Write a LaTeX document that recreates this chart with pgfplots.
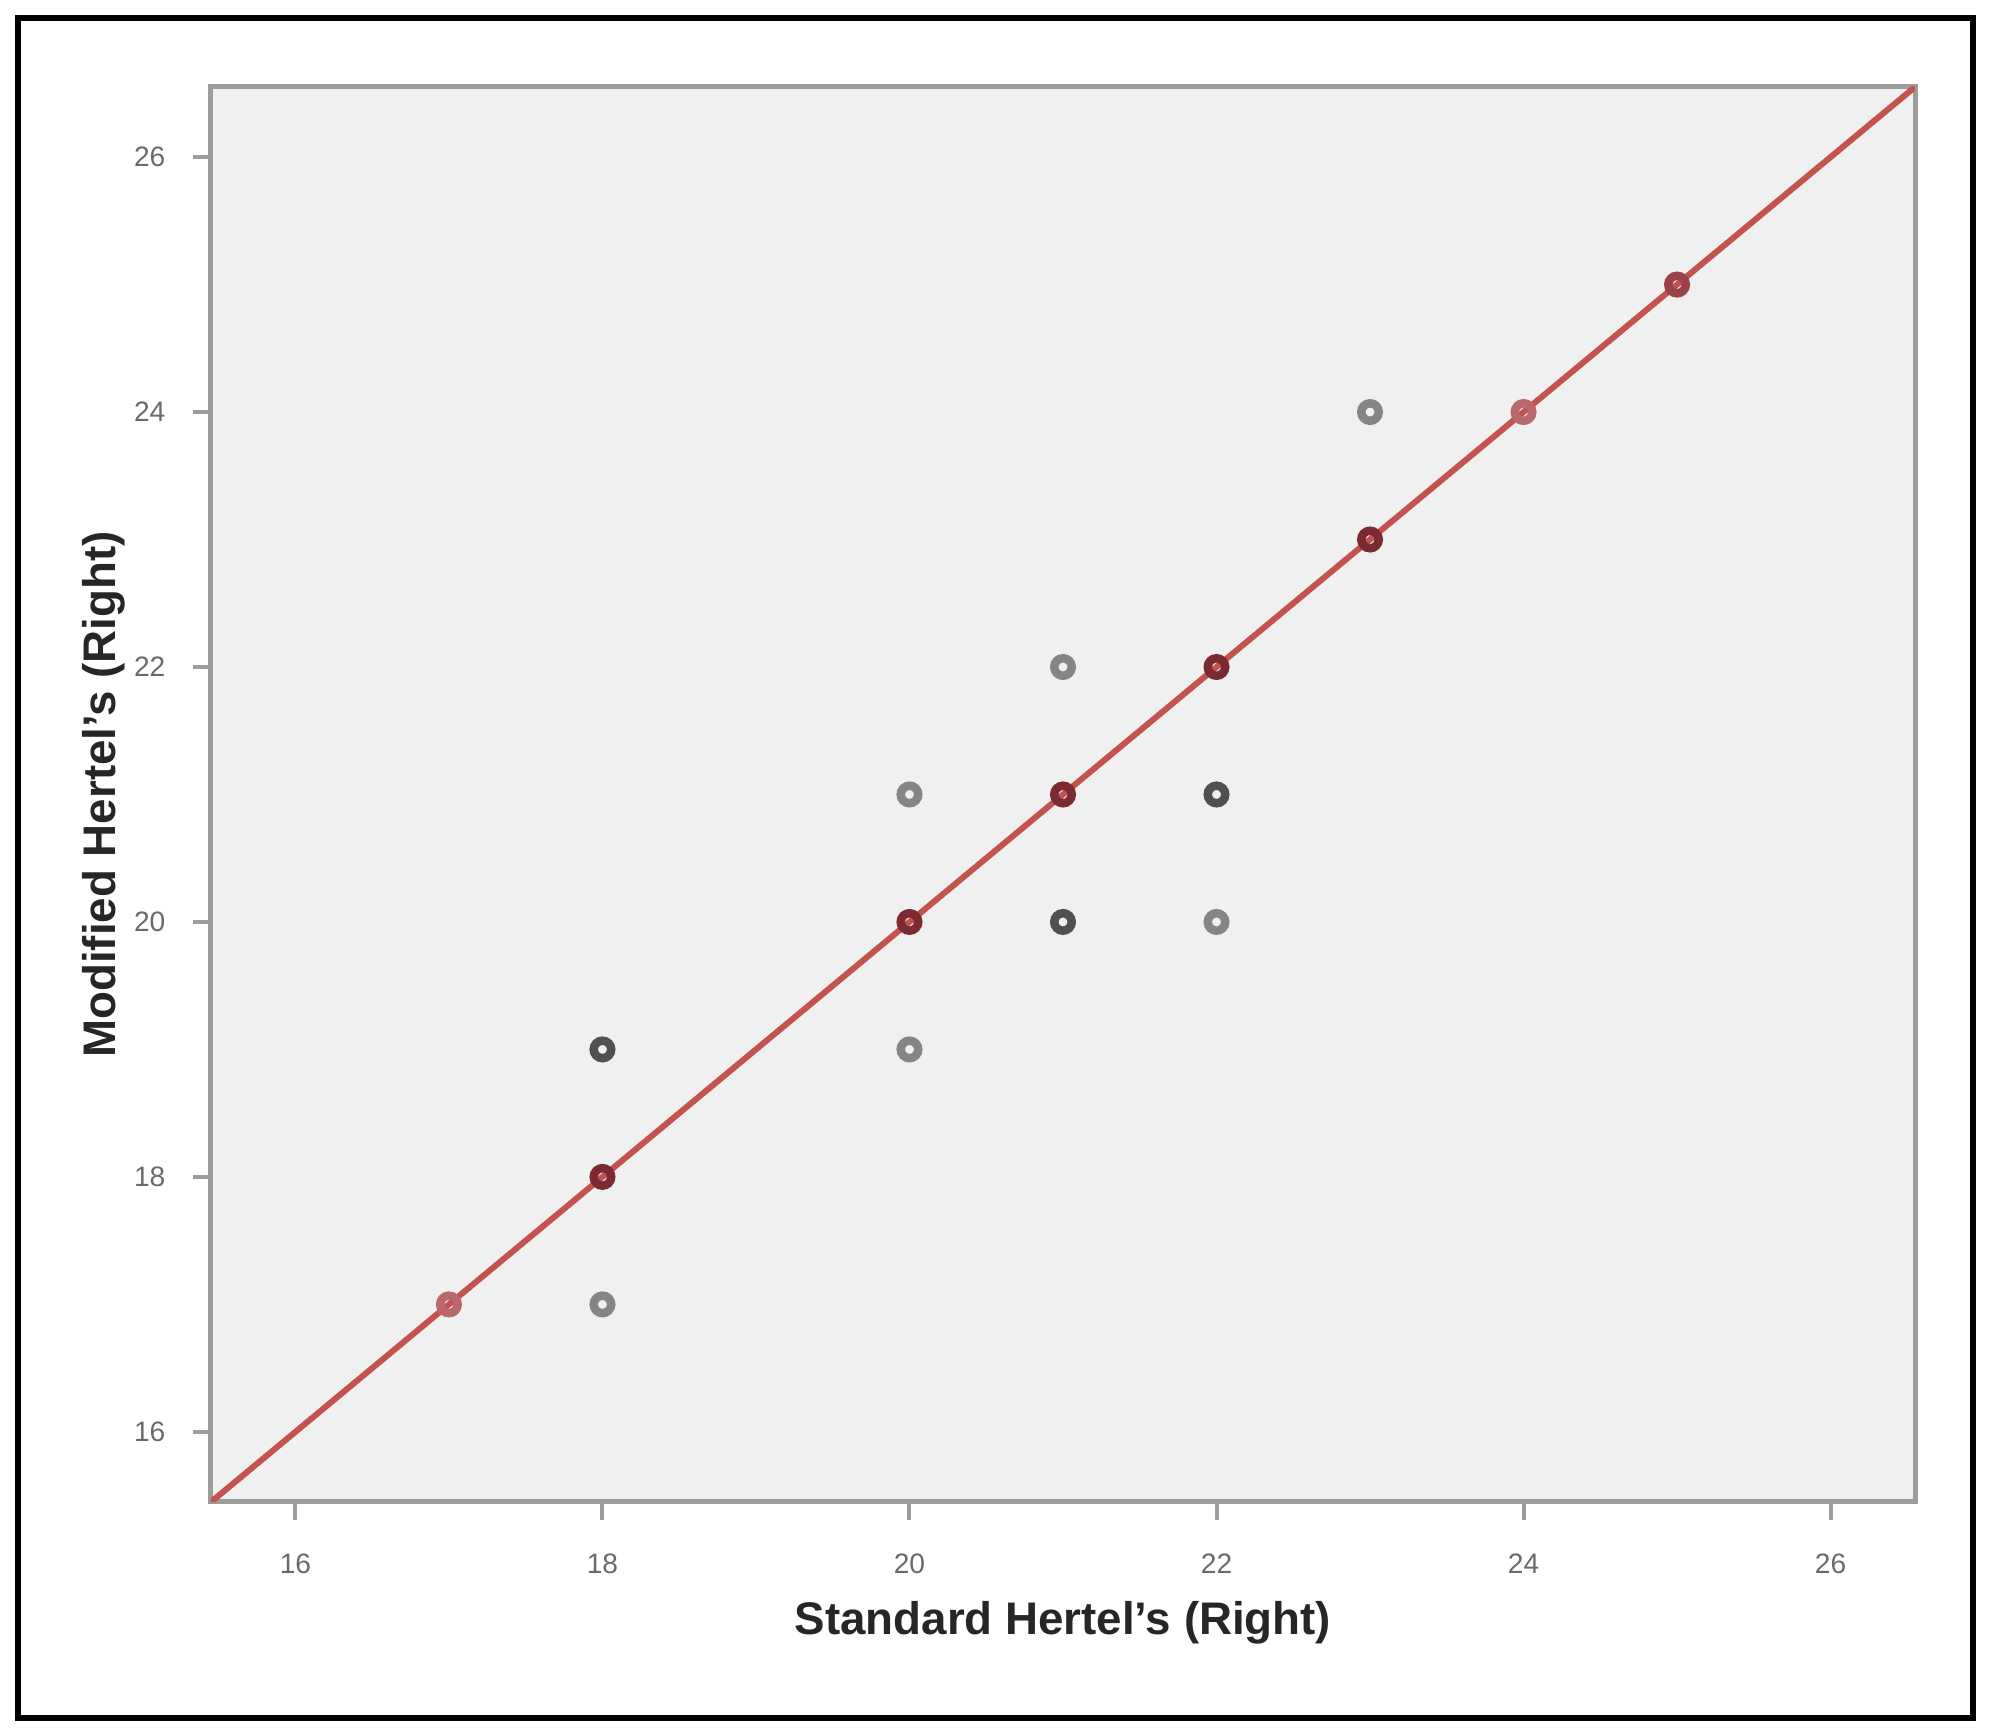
\documentclass[border=0pt]{standalone}
\usepackage{fontspec}
\setmainfont{Liberation Sans}
\usepackage{pgfplots}
\pgfplotsset{compat=1.18}
\definecolor{bgGrey}{HTML}{F0F0F0}
\definecolor{axisGrey}{HTML}{9C9C9C}
\definecolor{tickCol}{HTML}{6A6A6A}
\definecolor{labelCol}{HTML}{262626}
\definecolor{fitRed}{HTML}{C4524F}
\definecolor{ptLight}{HTML}{858585}
\definecolor{ptDark}{HTML}{505050}
\definecolor{onDark}{HTML}{7C2A31}
\definecolor{onMid}{HTML}{9A4248}
\definecolor{onLight}{HTML}{B9686C}
\begin{document}
\begin{tikzpicture}
\path[use as bounding box] (0,0) rectangle (19.91,17.36);
\draw[black, line width=0.06cm] (0.18,0.18) rectangle (19.73,17.18);
\begin{axis}[
  at={(2.11cm,2.34cm)}, anchor=south west,
  scale only axis, width=17.04cm, height=14.15cm,
  xmin=15.45, xmax=26.55, ymin=15.45, ymax=26.55,
  xtick={16,18,...,26}, ytick={16,18,...,26},
  axis background/.style={fill=bgGrey},
  axis line style={draw=axisGrey, line width=0.05cm},
  tick align=outside, tick pos=left,
  major tick length=0.18cm,
  tick style={draw=axisGrey, line width=0.04cm},
  /pgf/number format/assume math mode=true,
  xticklabel style={anchor=north, inner sep=0pt, yshift=-0.33cm, font=\fontsize{8}{9}\selectfont, text=tickCol},
  yticklabel style={anchor=east, inner sep=0pt, xshift=-0.27cm, font=\fontsize{8}{9}\selectfont, text=tickCol},
  xlabel={Standard Hertel's (Right)},
  ylabel={Modified Hertel's (Right)},
  xlabel style={at={(axis description cs:0.5,-0.0855)}, anchor=center, font=\bfseries\fontsize{13}{15}\selectfont, text=labelCol},
  ylabel style={at={(axis description cs:-0.0628,0.5)}, anchor=center, font=\bfseries\fontsize{13}{15}\selectfont, text=labelCol},
]
% reference line y = x
\addplot[fitRed, line width=0.06cm] coordinates {(15.45,15.45) (26.55,26.55)};
% off the line, lighter
\addplot[only marks, mark=o, mark size=0.0875cm, mark options={draw=ptLight, line width=0.085cm}]
  coordinates {(18,17) (20,21) (20,19) (21,22) (22,20) (23,24)};
% off the line, repeated (darker)
\addplot[only marks, mark=o, mark size=0.0875cm, mark options={draw=ptDark, line width=0.085cm}]
  coordinates {(18,19) (21,20) (22,21)};
% on the line, single
\addplot[only marks, mark=o, mark size=0.0875cm, mark options={draw=onLight, fill=onLight, line width=0.085cm}]
  coordinates {(17,17) (24,24)};
\addplot[only marks, mark=o, mark size=0.0875cm, mark options={draw=onMid, fill=onLight, line width=0.085cm}]
  coordinates {(25,25)};
% on the line, repeated
\addplot[only marks, mark=o, mark size=0.0875cm, mark options={draw=onDark, fill=onLight, line width=0.085cm}]
  coordinates {(18,18) (20,20) (21,21) (22,22) (23,23)};
\end{axis}
\end{tikzpicture}
\end{document}
